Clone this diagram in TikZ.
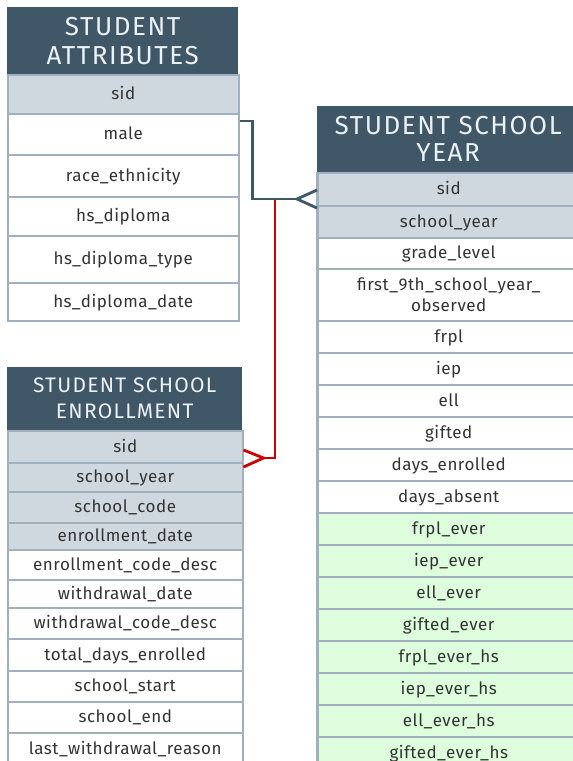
\documentclass[tikz,border=0pt]{standalone}
\usepackage{fontspec}
\setmainfont{Fira Sans}
\newfontfamily\hdrfont{Fira Sans}[LetterSpace=6]
\newfontfamily\cellfont{Fira Sans}[LetterSpace=3]
\usetikzlibrary{calc}
\definecolor{hdr}{RGB}{64,87,104}
\definecolor{hdrtxt}{RGB}{236,241,244}
\definecolor{keyf}{RGB}{207,216,223}
\definecolor{everf}{RGB}{221,253,221}
\definecolor{bord}{RGB}{160,176,190}
\definecolor{txt}{RGB}{51,51,51}
\definecolor{linkc}{RGB}{64,87,104}
\definecolor{redc}{RGB}{204,0,0}
\tikzset{
  cell/.style={draw=bord, line width=1.5pt, anchor=north west, inner sep=0pt,
    font=\cellfont\fontsize{17}{20}\selectfont, text=txt, text height=11.5pt, text depth=1pt},
  keycell/.style={cell, fill=keyf},
  plaincell/.style={cell, fill=white},
  evercell/.style={cell, fill=everf},
  celltext/.style={inner sep=0pt, font=\cellfont\fontsize{17}{21}\selectfont, text=txt, align=center},
  hdrcell/.style={anchor=north west, fill=hdr, inner sep=0pt, text=hdrtxt, align=center},
  link/.style={line width=2.8pt, draw=linkc},
  redlink/.style={line width=2.8pt, draw=redc},
}
\begin{document}
\begin{tikzpicture}[x=1pt,y=-1pt]
\useasboundingbox (0,0) rectangle (573,761);
% ---------- STUDENT ATTRIBUTES ----------
\node[hdrcell, minimum width=231pt, minimum height=67pt, font=\hdrfont\fontsize{26}{29}\selectfont] (a0) at (7,7) {STUDENT\\ATTRIBUTES};
\node[keycell,   minimum width=231pt, minimum height=39pt] (a1) at (7,74)  {sid};
\node[plaincell, minimum width=231pt, minimum height=41pt] (a2) at (7,113) {male};
\node[plaincell, minimum width=231pt, minimum height=42pt] (a3) at (7,154) {race\_ethnicity};
\node[plaincell, minimum width=231pt, minimum height=39pt] (a4) at (7,196) {hs\_diploma};
\node[plaincell, minimum width=231pt, minimum height=47pt] (a5) at (7,235) {hs\_diploma\_type};
\node[plaincell, minimum width=231pt, minimum height=38pt] (a6) at (7,282) {hs\_diploma\_date};
% ---------- STUDENT SCHOOL YEAR ----------
\node[hdrcell, minimum width=262pt, minimum height=66pt, font=\hdrfont\fontsize{26}{27}\selectfont] (b0) at (317,106) {STUDENT SCHOOL\\YEAR};
\node[keycell,   minimum width=262pt, minimum height=33pt] (b1) at (317,172) {sid};
\node[keycell,   minimum width=262pt, minimum height=32pt] (b2) at (317,205) {school\_year};
\node[plaincell, minimum width=262pt, minimum height=31pt] (b3) at (317,237) {grade\_level};
\node[plaincell, minimum width=262pt, minimum height=52pt] (b4) at (317,268) {};
\node[celltext] (b4t) at (b4.center) {first\_9th\_school\_year\_\\observed};
\node[plaincell, minimum width=262pt, minimum height=32pt] (b5) at (317,320) {frpl};
\node[plaincell, minimum width=262pt, minimum height=32pt] (b6) at (317,352) {iep};
\node[plaincell, minimum width=262pt, minimum height=32pt] (b7) at (317,384) {ell};
\node[plaincell, minimum width=262pt, minimum height=32pt] (b8) at (317,416) {gifted};
\node[plaincell, minimum width=262pt, minimum height=32pt] (b9) at (317,448) {days\_enrolled};
\node[plaincell, minimum width=262pt, minimum height=32pt] (b10) at (317,480) {days\_absent};
\node[evercell,  minimum width=262pt, minimum height=32pt] (b11) at (317,512) {frpl\_ever};
\node[evercell,  minimum width=262pt, minimum height=32pt] (b12) at (317,544) {iep\_ever};
\node[evercell,  minimum width=262pt, minimum height=32pt] (b13) at (317,576) {ell\_ever};
\node[evercell,  minimum width=262pt, minimum height=32pt] (b14) at (317,608) {gifted\_ever};
\node[evercell,  minimum width=262pt, minimum height=32pt] (b15) at (317,640) {frpl\_ever\_hs};
\node[evercell,  minimum width=262pt, minimum height=32pt] (b16) at (317,672) {iep\_ever\_hs};
\node[evercell,  minimum width=262pt, minimum height=32pt] (b17) at (317,704) {ell\_ever\_hs};
\node[evercell,  minimum width=262pt, minimum height=32pt] (b18) at (317,736) {gifted\_ever\_hs};
\draw[bord, line width=3pt] (b1.north west) -- (b18.south west);
% ---------- STUDENT SCHOOL ENROLLMENT ----------
\node[hdrcell, minimum width=235pt, minimum height=63pt, font=\hdrfont\fontsize{21}{26}\selectfont] (c0) at (7,367) {STUDENT SCHOOL\\ENROLLMENT};
\node[keycell,   minimum width=235pt, minimum height=32pt] (c1) at (7,430) {sid};
\node[keycell,   minimum width=235pt, minimum height=29pt] (c2) at (7,462) {school\_year};
\node[keycell,   minimum width=235pt, minimum height=31pt] (c3) at (7,491) {school\_code};
\node[keycell,   minimum width=235pt, minimum height=27pt] (c4) at (7,522) {enrollment\_date};
\node[plaincell, minimum width=235pt, minimum height=30pt] (c5) at (7,549) {enrollment\_code\_desc};
\node[plaincell, minimum width=235pt, minimum height=28pt] (c6) at (7,579) {withdrawal\_date};
\node[plaincell, minimum width=235pt, minimum height=31pt] (c7) at (7,607) {withdrawal\_code\_desc};
\node[plaincell, minimum width=235pt, minimum height=32pt] (c8) at (7,638) {total\_days\_enrolled};
\node[plaincell, minimum width=235pt, minimum height=31pt] (c9) at (7,670) {school\_start};
\node[plaincell, minimum width=235pt, minimum height=31pt] (c10) at (7,701) {school\_end};
\node[plaincell, minimum width=235pt, minimum height=32pt] (c11) at (7,732) {last\_withdrawal\_reason};
% ---------- connectors ----------
\coordinate (m1) at ([yshift=-8pt]a2.north east);
\coordinate (v1) at ([xshift=-20pt,yshift=-27pt]b1.north west);
\coordinate (r0) at ($(v1)+(-22,0)$);
\coordinate (v2) at ([xshift=20pt,yshift=-28pt]c1.north east);
\draw[redlink] (r0) |- (v2);
\draw[redlink] ([yshift=-20pt]c1.north east) -- (v2) -- ([yshift=-37pt]c1.north east);
\draw[link] (m1) -- ++(13,0) |- (v1);
\draw[link] ([yshift=-18pt]b1.north west) -- (v1) -- ([yshift=-36pt]b1.north west);
\end{tikzpicture}
\end{document}
